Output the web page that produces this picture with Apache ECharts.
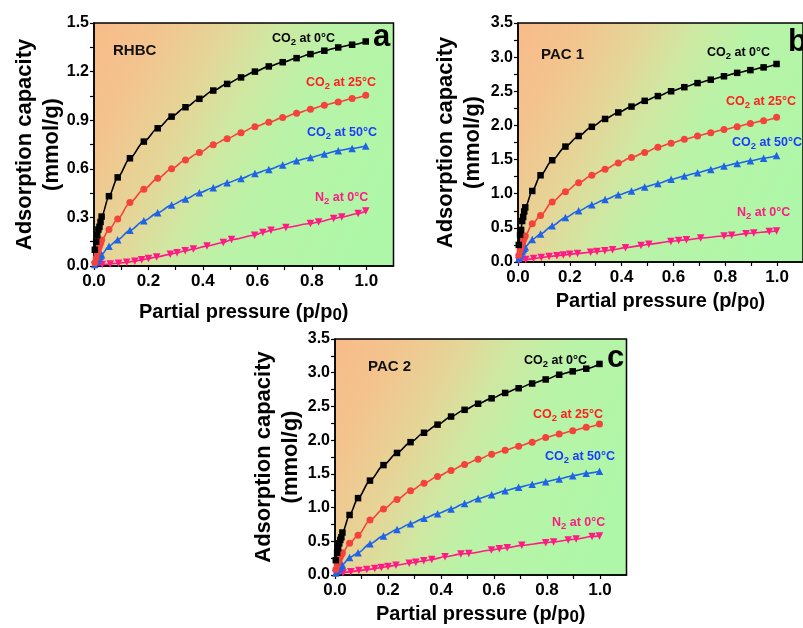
<!DOCTYPE html>
<html>
<head>
<meta charset="utf-8">
<script src="https://cdn.jsdelivr.net/npm/echarts@6/dist/echarts.min.js"></script>
<style>
  html, body { margin: 0; padding: 0; background: #fff; }
  #chart { width: 803px; height: 628px; }
</style>
</head>
<body>
<div id="chart"></div>
<script>
// relative pressures (p/p0) of the measured points
const pCO2 = [0.003, 0.008, 0.012, 0.016, 0.02, 0.024, 0.028, 0.055, 0.087, 0.132, 0.183, 0.234, 0.285, 0.336,
  0.387, 0.438, 0.489, 0.54, 0.591, 0.642, 0.693, 0.744, 0.795, 0.846, 0.897, 0.948, 0.998]
const pN2 = [0.003, 0.03, 0.06, 0.09, 0.12, 0.15, 0.175, 0.2, 0.23, 0.28, 0.305, 0.335, 0.365, 0.415,
  0.475, 0.505, 0.59, 0.62, 0.65, 0.705, 0.795, 0.825, 0.88, 0.91, 0.97, 0.998]

// RHBC (mmol/g)
const rhbcCO2at0 = [0.1, 0.15, 0.19, 0.225, 0.242, 0.272, 0.305, 0.431, 0.547, 0.665, 0.768, 0.85, 0.922, 0.98,
  1.032, 1.083, 1.124, 1.164, 1.2, 1.232, 1.258, 1.283, 1.308, 1.329, 1.349, 1.366, 1.386]
const rhbcCO2at25 = [0.02, 0.05, 0.08, 0.1, 0.12, 0.14, 0.16, 0.225, 0.29, 0.392, 0.473, 0.541, 0.6, 0.654,
  0.701, 0.749, 0.786, 0.823, 0.86, 0.887, 0.916, 0.943, 0.968, 0.992, 1.013, 1.034, 1.054]
const rhbcCO2at50 = [0.01, 0.025, 0.035, 0.045, 0.055, 0.062, 0.07, 0.122, 0.162, 0.22, 0.279, 0.328, 0.376, 0.413,
  0.452, 0.483, 0.514, 0.54, 0.571, 0.596, 0.623, 0.65, 0.67, 0.691, 0.712, 0.726, 0.741]
const rhbcN2at0 = [0.005, 0.009, 0.013, 0.017, 0.023, 0.03, 0.038, 0.046, 0.056, 0.072, 0.082, 0.094, 0.105,
  0.124, 0.145, 0.163, 0.19, 0.207, 0.22, 0.238, 0.262, 0.272, 0.293, 0.303, 0.324, 0.34]

// PAC 1
const pac1CO2at0 = [0.25, 0.4, 0.47, 0.6, 0.66, 0.74, 0.8, 1.04, 1.27, 1.49, 1.69, 1.845, 1.98, 2.095,
  2.19, 2.276, 2.36, 2.43, 2.5, 2.56, 2.62, 2.67, 2.72, 2.77, 2.81, 2.85, 2.9]
const pac1CO2at25 = [0.1, 0.17, 0.22, 0.27, 0.31, 0.35, 0.38, 0.56, 0.68, 0.88, 1.03, 1.16, 1.27, 1.36,
  1.45, 1.53, 1.605, 1.68, 1.74, 1.796, 1.845, 1.894, 1.94, 1.98, 2.03, 2.07, 2.12]
const pac1CO2at50 = [0.05, 0.09, 0.12, 0.15, 0.18, 0.2, 0.22, 0.33, 0.41, 0.53, 0.65, 0.75, 0.837, 0.915,
  0.984, 1.04, 1.1, 1.15, 1.21, 1.26, 1.307, 1.356, 1.405, 1.444, 1.483, 1.52, 1.56]
const pac1N2at0 = [0.02, 0.035, 0.05, 0.065, 0.08, 0.092, 0.103, 0.113, 0.125, 0.142, 0.152, 0.165, 0.18,
  0.21, 0.24, 0.26, 0.3, 0.315, 0.325, 0.35, 0.38, 0.39, 0.415, 0.425, 0.445, 0.455]

// PAC 2
const pac2CO2at0 = [0.22, 0.33, 0.4, 0.47, 0.52, 0.56, 0.63, 0.89, 1.14, 1.4, 1.63, 1.81, 1.97, 2.11,
  2.23, 2.35, 2.45, 2.54, 2.62, 2.7, 2.77, 2.84, 2.9, 2.97, 3.02, 3.06, 3.13]
const pac2CO2at25 = [0.08, 0.15, 0.19, 0.23, 0.27, 0.3, 0.33, 0.47, 0.59, 0.815, 0.98, 1.12, 1.25, 1.36,
  1.46, 1.55, 1.64, 1.715, 1.79, 1.85, 1.91, 1.97, 2.04, 2.09, 2.14, 2.19, 2.24]
const pac2CO2at50 = [0.03, 0.06, 0.08, 0.1, 0.12, 0.14, 0.15, 0.26, 0.33, 0.465, 0.58, 0.675, 0.76, 0.84,
  0.91, 0.98, 1.06, 1.13, 1.19, 1.25, 1.3, 1.345, 1.384, 1.424, 1.473, 1.508, 1.54]
const pac2N2at0 = [0.02, 0.035, 0.05, 0.065, 0.08, 0.095, 0.11, 0.125, 0.145, 0.175, 0.19, 0.21, 0.23,
  0.27, 0.31, 0.32, 0.37, 0.39, 0.405, 0.44, 0.48, 0.49, 0.52, 0.534, 0.57, 0.58]

// ticks and labels
const xLabelValues = [0, 0.2, 0.4, 0.6, 0.8, 1.0]
const xTickValues = [0, 0.1, 0.2, 0.3, 0.4, 0.5, 0.6, 0.7, 0.8, 0.9, 1.0]
const yTicksRHBC = [0, 0.15, 0.3, 0.45, 0.6, 0.75, 0.9, 1.05, 1.2, 1.35, 1.5]
const yTicksPAC = [0, 0.25, 0.5, 0.75, 1, 1.25, 1.5, 1.75, 2, 2.25, 2.5, 2.75, 3, 3.25, 3.5]

const sampleNames = ['RHBC', 'PAC 1', 'PAC 2']
const panelLetters = ['a', 'b', 'c']
const seriesNames = ['CO{s|2} at 0°C', 'CO{s|2} at 25°C', 'CO{s|2} at 50°C', 'N{s|2} at 0°C']

const FONT = 'Arial, "Liberation Sans", sans-serif'

const panels = [
  {
    grid: { left: 94, top: 23, width: 299.5, height: 243 },
    yMax: 1.5, yStep: 0.3, yTicks: yTicksRHBC, yNameGap: 28.5, xNameGap: 34,
    data: [rhbcCO2at0, rhbcCO2at25, rhbcCO2at50, rhbcN2at0],
    namePos: [113, 51], letterPos: [373, 37],
    labelPos: [[272, 39], [306, 83], [307, 133], [315, 198]]
  },
  {
    grid: { left: 518, top: 23, width: 295.5, height: 239 },
    yMax: 3.5, yStep: 0.5, yTicks: yTicksPAC, yNameGap: 31.5, xNameGap: 27,
    data: [pac1CO2at0, pac1CO2at25, pac1CO2at50, pac1N2at0],
    namePos: [541, 55], letterPos: [788, 42],
    labelPos: [[707, 53], [726, 102], [732, 143], [737, 213]]
  },
  {
    grid: { left: 335, top: 339, width: 291.5, height: 236 },
    yMax: 3.5, yStep: 0.5, yTicks: yTicksPAC, yNameGap: 30.5, xNameGap: 27,
    data: [pac2CO2at0, pac2CO2at25, pac2CO2at50, pac2N2at0],
    namePos: [368, 367], letterPos: [607, 358],
    labelPos: [[524, 361], [533, 415], [545, 457], [552, 523]]
  }
]

const lineStyles = [
  { color: '#000000', text: '#000000', symbol: 'rect', size: 6.5, rotate: 0 },
  { color: '#f4433c', text: '#ff2020', symbol: 'circle', size: 7, rotate: 0 },
  { color: '#1f63e6', text: '#1a3cff', symbol: 'triangle', size: 7.5, rotate: 0 },
  { color: '#ff1b83', text: '#ff1b83', symbol: 'triangle', size: 7.5, rotate: 180 }
]

const plotBg = {
  type: 'linear', x: 0, y: 0, x2: 1, y2: 0.6,
  colorStops: [
    { offset: 0, color: '#f8bb88' },
    { offset: 0.18, color: '#f3c48e' },
    { offset: 0.36, color: '#e4d698' },
    { offset: 0.5, color: '#cfe8a2' },
    { offset: 0.66, color: '#b9f3a7' },
    { offset: 1, color: '#aff7a8' }
  ]
}

const axisText = { color: '#000', fontWeight: 'bold', fontFamily: FONT }

const grids = []
const xAxes = []
const yAxes = []
const series = []
const graphics = []

panels.forEach((p, i) => {
  grids.push(Object.assign({
    show: true,
    backgroundColor: plotBg,
    borderColor: '#000',
    borderWidth: 1.5
  }, p.grid))

  xAxes.push({
    type: 'value',
    gridIndex: i,
    min: 0,
    max: 1.1,
    interval: 0.2,
    name: 'Partial pressure (p/p{s|0})',
    nameLocation: 'middle',
    nameGap: p.xNameGap,
    nameMoveOverlap: false,
    nameTextStyle: Object.assign({
      fontSize: 20,
      rich: { s: Object.assign({ fontSize: 17, padding: [7, 0, 0, 0] }, axisText) }
    }, axisText),
    axisLine: { onZero: false, lineStyle: { color: '#000', width: 1.5 } },
    axisTick: { show: true, length: 4, customValues: xTickValues, lineStyle: { color: '#000', width: 1.2 } },
    axisLabel: Object.assign({
      customValues: xLabelValues,
      fontSize: 17,
      margin: 7,
      formatter: v => v.toFixed(1)
    }, axisText),
    splitLine: { show: false }
  })

  yAxes.push({
    type: 'value',
    gridIndex: i,
    min: 0,
    max: p.yMax,
    interval: p.yStep,
    name: 'Adsorption capacity\n(mmol/g)',
    nameLocation: 'middle',
    nameGap: p.yNameGap,
    nameMoveOverlap: false,
    nameTextStyle: Object.assign({ fontSize: 22, lineHeight: 27 }, axisText),
    axisLine: { show: true, onZero: false, lineStyle: { color: '#000', width: 1.5 } },
    axisTick: { show: true, length: 4, customValues: p.yTicks, lineStyle: { color: '#000', width: 1.2 } },
    axisLabel: Object.assign({
      fontSize: 16,
      margin: 5,
      formatter: v => v.toFixed(1)
    }, axisText),
    splitLine: { show: false }
  })

  // N2 first so the CO2 curves sit above it
  for (let k = 3; k >= 0; k--) {
    const st = lineStyles[k]
    const xs = k === 3 ? pN2 : pCO2
    series.push({
      type: 'line',
      xAxisIndex: i,
      yAxisIndex: i,
      data: xs.map((x, j) => [x, p.data[k][j]]),
      smooth: 0.3,
      smoothMonotone: 'x',
      symbol: st.symbol,
      symbolSize: st.size,
      symbolRotate: st.rotate,
      showAllSymbol: true,
      lineStyle: { color: st.color, width: 1.6 },
      itemStyle: { color: st.color, borderWidth: 0 },
      z: 5 - k
    })
  }

  graphics.push({
    type: 'text', x: p.namePos[0], y: p.namePos[1], z: 100,
    style: { text: sampleNames[i], fill: '#111', font: 'bold 15px ' + FONT, align: 'left', verticalAlign: 'middle' }
  })
  graphics.push({
    type: 'text', x: p.letterPos[0], y: p.letterPos[1], z: 100,
    style: { text: panelLetters[i], fill: '#000', font: 'bold 31px ' + FONT, align: 'left', verticalAlign: 'middle' }
  })
  seriesNames.forEach((name, k) => {
    graphics.push({
      type: 'text', x: p.labelPos[k][0], y: p.labelPos[k][1], z: 100,
      style: {
        text: name,
        fill: lineStyles[k].text,
        font: 'bold 12.5px ' + FONT,
        align: 'left',
        verticalAlign: 'middle',
        rich: {
          s: { font: 'bold 9.5px ' + FONT, fill: lineStyles[k].text, padding: [6, 0, 0, 0] }
        }
      }
    })
  })
})

const chart = echarts.init(document.getElementById('chart'), null, { renderer: 'canvas' })
chart.setOption({
  animation: false,
  backgroundColor: '#ffffff',
  grid: grids,
  xAxis: xAxes,
  yAxis: yAxes,
  series: series,
  graphic: graphics
})
</script>
</body>
</html>
